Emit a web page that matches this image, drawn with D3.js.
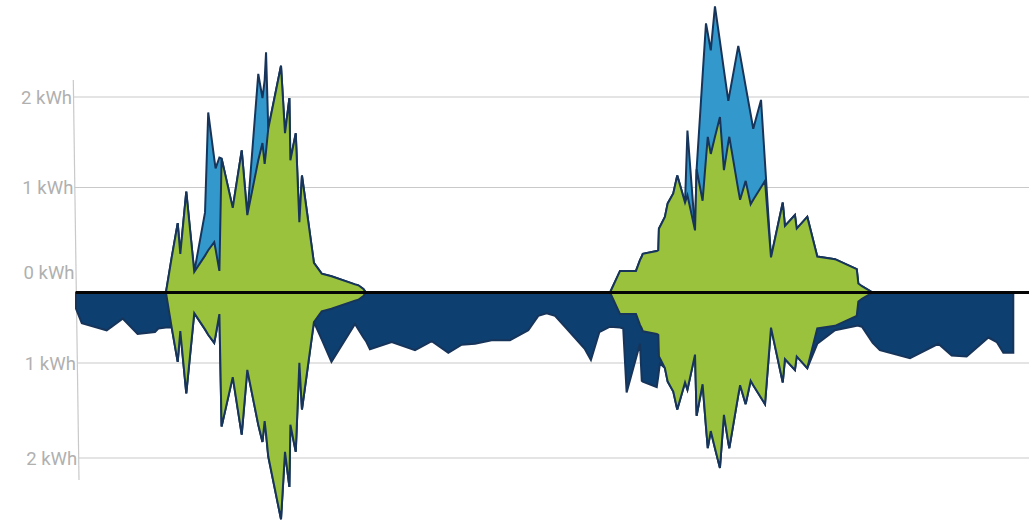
<!DOCTYPE html>
<html><head><meta charset="utf-8">
<script src="https://cdn.jsdelivr.net/npm/d3@7"></script>
<style>html,body{margin:0;padding:0;background:#fff;overflow:hidden}</style>
</head><body><svg id="c" width="1029" height="523"></svg>
<script>
// time in hours from start of the window
const hours = [0,0.29,1.54,2.34,3.09,3.96,4.13,4.51,4.80,5.10,5.23,5.53,5.93,6.47,6.63,6.93,7.00,7.19,7.30,7.86,8.31,8.59,9.14,9.35,9.46,9.53,9.64,10.28,10.48,10.70,10.75,11.02,11.20,11.33,11.93,12.32,12.81,13.99,14.16,14.41,14.54,14.74,15.83,17.00,17.84,18.67,19.34,20.01,20.84,21.76,22.68,23.18,23.60,24.02,24.60,25.52,25.82,26.24,26.78,27.28,27.44,27.61,28.08,28.28,28.37,28.42,29.12,29.20,29.23,29.28,29.53,29.67,29.95,30.15,30.54,30.66,31.04,31.12,31.42,31.59,31.68,31.83,32.04,32.29,32.49,32.71,32.76,33.21,33.30,33.58,33.83,33.96,34.35,34.55,34.85,35.44,35.55,36.05,36.14,36.67,37.17,38.06,39.15,39.23,39.41,39.95,40.31,41.82,43.24,43.91,44.66,45.75,46.17,46.50,47.00];
// self-consumed solar (kWh) – drawn up and down
const selfUse = [0,0,0,0,0,0,0,0,0.39,0.77,0.43,1.12,0.23,0.41,0.47,0.56,0.48,0.24,1.49,0.94,1.58,0.86,1.47,1.66,1.43,1.57,1.82,2.52,1.77,2.16,1.47,1.77,0.78,1.30,0.33,0.21,0.18,0.09,0.08,0.04,0,0,0,0,0,0,0,0,0,0,0,0,0,0,0,0,0,0,0,0.24,0.24,0.24,0.24,0.36,0.40,0.43,0.46,0.47,0.71,0.73,0.84,0.99,1.10,1.30,1.00,1.08,0.69,1.37,1.02,1.49,1.73,1.54,1.73,1.95,1.36,1.67,1.73,1.14,1.03,1.24,0.98,1.03,1.17,1.24,0.39,1.00,0.74,0.86,0.71,0.84,0.40,0.37,0.26,0.10,0.07,0,0,0,0,0,0,0,0,0,0];
// total solar production (kWh) – self use + export
const production = [0,0,0,0,0,0,0,0,0.39,0.77,0.43,1.12,0.23,0.89,2.00,1.49,1.38,1.50,1.49,0.94,1.58,0.86,2.43,2.16,2.36,2.67,1.82,2.52,1.77,2.16,1.47,1.77,0.78,1.30,0.33,0.21,0.18,0.09,0.08,0.04,0,0,0,0,0,0,0,0,0,0,0,0,0,0,0,0,0,0,0,0.24,0.24,0.24,0.24,0.36,0.40,0.43,0.46,0.47,0.71,0.73,0.84,0.99,1.10,1.30,1.00,1.80,0.69,1.37,2.41,2.99,2.88,2.69,3.18,2.79,2.47,2.13,2.19,2.74,2.64,2.29,1.98,1.82,2.14,1.44,0.39,1.00,0.74,0.86,0.71,0.84,0.40,0.37,0.26,0.10,0.07,0,0,0,0,0,0,0,0,0,0];
// total consumption (kWh) – self use + grid import
const consumption = [0.18,0.34,0.42,0.29,0.46,0.44,0.40,0.39,0.39,0.77,0.43,1.12,0.23,0.41,0.47,0.56,0.48,0.24,1.49,0.94,1.58,0.86,1.47,1.66,1.43,1.57,1.82,2.52,1.77,2.16,1.47,1.77,0.78,1.30,0.33,0.52,0.77,0.35,0.41,0.50,0.54,0.63,0.55,0.64,0.54,0.67,0.58,0.57,0.53,0.53,0.42,0.26,0.23,0.26,0.40,0.63,0.75,0.44,0.38,0.39,0.40,1.11,0.73,0.57,0.98,0.99,1.05,0.93,0.87,0.79,0.84,0.99,1.10,1.30,1.00,1.08,0.69,1.37,1.02,1.49,1.73,1.54,1.73,1.95,1.36,1.67,1.73,1.14,1.03,1.24,0.98,1.03,1.17,1.24,0.39,1.00,0.74,0.86,0.71,0.84,0.57,0.42,0.37,0.37,0.38,0.56,0.64,0.73,0.57,0.70,0.71,0.50,0.55,0.67,0.67];
const topTicks = [0, 1, 2];
const bottomTicks = [1, 2];
const unit = " kWh";

const W = 1029, H = 523, base = 292.5;
const svg = d3.select("#c");

const x = d3.scaleLinear().domain([0, 47]).range([76, 1013.3]);
const yUp = d3.scaleLinear().domain([0, 1]).range([base, base - 90]);
const yDown = d3.scaleLinear().domain([0, 1]).range([base, base + 90]);
// tick placement scales for the two axes
const tickTop = d3.scaleLinear().domain([0, 1, 2]).range([272, 187.5, 97]);
const tickBottom = d3.scaleLinear().domain([1, 2]).range([363, 458]);
// slightly slanted axis line
const axisX = y => 73.3 + (y - 80) * 0.01425;

const grid = svg.append("g");
const gridColor = "#c9c9c9";
[[tickTop, topTicks.filter(t => t > 0)], [tickBottom, bottomTicks]].forEach(([s, ts]) => {
  grid.selectAll(null).data(ts).join("line")
    .attr("x1", d => axisX(s(d))).attr("x2", W)
    .attr("y1", d => s(d)).attr("y2", d => s(d))
    .attr("stroke", gridColor).attr("stroke-width", 1.2);
});
grid.append("line").attr("x1", axisX(80)).attr("y1", 80).attr("x2", axisX(base)).attr("y2", base)
  .attr("stroke", gridColor).attr("stroke-width", 1.2);
grid.append("line").attr("x1", axisX(base)).attr("y1", base).attr("x2", axisX(480)).attr("y2", 480)
  .attr("stroke", gridColor).attr("stroke-width", 1.2);

const labels = svg.append("g").attr("font-family", "Roboto, sans-serif").attr("font-size", 18.5)
  .attr("fill", "#b0b0b0").attr("text-anchor", "end");
[[tickTop, topTicks], [tickBottom, bottomTicks]].forEach(([s, ts]) => {
  labels.selectAll(null).data(ts).join("text")
    .attr("x", d => axisX(s(d)) - 1.5).attr("y", d => s(d) + 2)
    .attr("dominant-baseline", "middle")
    .text(d => d + unit);
});

const idx = d3.range(hours.length);
const areaUp = arr => d3.area().x(i => x(hours[i])).y0(yUp(0)).y1(i => yUp(arr[i]))(idx);
const areaDown = arr => d3.area().x(i => x(hours[i])).y0(yDown(0)).y1(i => yDown(arr[i]))(idx);

const stroke = "#17345a";
const marks = svg.append("g").attr("stroke", stroke).attr("stroke-width", 2).attr("stroke-linejoin", "miter");
marks.append("path").attr("d", areaDown(consumption)).attr("fill", "#0d3f70");
marks.append("path").attr("d", areaDown(selfUse)).attr("fill", "#9bc23c");
marks.append("path").attr("d", areaUp(production)).attr("fill", "#3399cc");
marks.append("path").attr("d", areaUp(selfUse)).attr("fill", "#9bc23c");

svg.append("line").attr("x1", x(0)).attr("x2", W).attr("y1", base).attr("y2", base)
  .attr("stroke", "#050505").attr("stroke-width", 3);
</script></body></html>
